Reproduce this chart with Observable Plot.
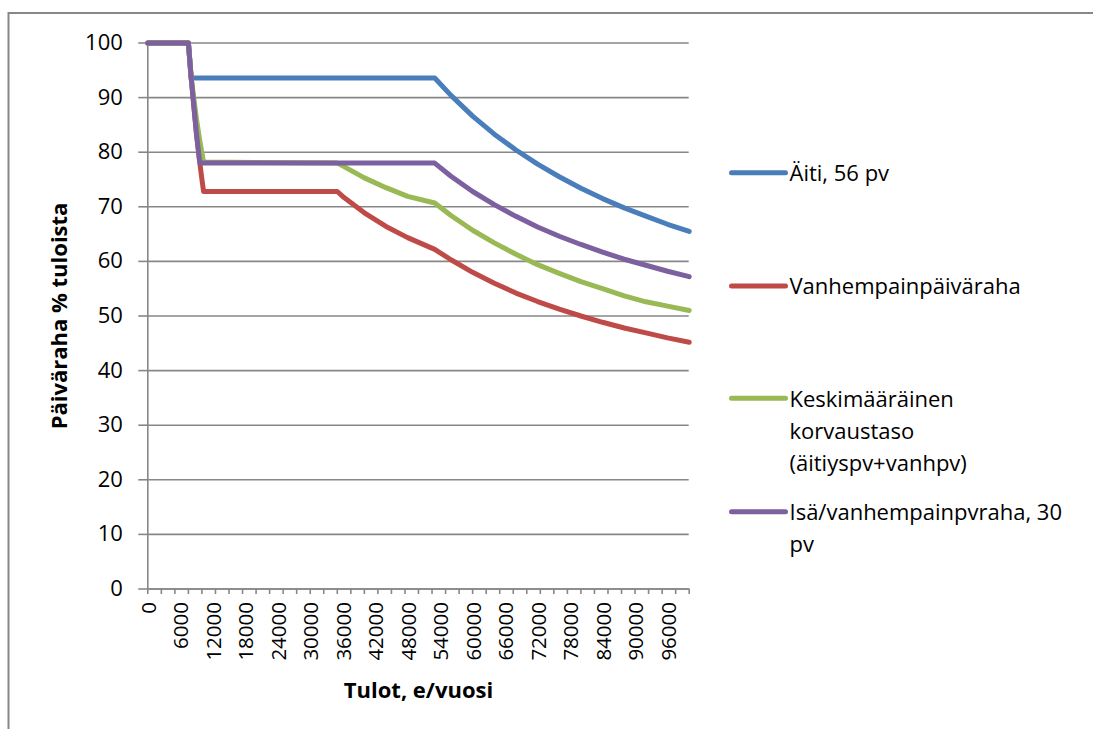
<!DOCTYPE html>
<html><head><meta charset="utf-8">
<script src="https://cdn.jsdelivr.net/npm/d3@7"></script>
<script src="https://cdn.jsdelivr.net/npm/@observablehq/plot@0.6"></script>
<style>
html,body{margin:0;padding:0;background:#fff;}
#chart{position:relative;width:1093px;height:729px;overflow:hidden;}
</style></head><body><div id="chart"></div>
<script>
// Tulot, e/vuosi (income, euro per year)
const income = [0, 7500, 8000, 9000, 9600, 10000, 10300, 35000, 36000, 40000, 44000, 48000, 53000,
  56000, 60000, 64000, 68000, 72000, 76000, 80000, 84000, 88000, 92000, 96000, 100000];
// Päiväraha % tuloista
const aiti = [100, 100, 93.6, 93.6, 93.6, 93.6, 93.6, 93.6, 93.6, 93.6, 93.6, 93.6, 93.6,
  90.4, 86.6, 83.3, 80.4, 77.8, 75.5, 73.4, 71.5, 69.8, 68.3, 66.8, 65.5];
const vanhempain = [100, 100, 93.75, 83.3, 78.1, 75.0, 72.8, 72.8, 71.9, 68.9, 66.4, 64.35, 62.2,
  60.3, 58.0, 56.0, 54.2, 52.65, 51.25, 50.0, 48.85, 47.8, 46.9, 46.0, 45.2];
const keskimaarainen = [100, 100, 93.7, 86.0, 82.1, 79.8, 78.2, 78.0, 77.5, 75.3, 73.5, 71.9, 70.7,
  68.4, 65.7, 63.4, 61.3, 59.4, 57.8, 56.3, 55.0, 53.7, 52.6, 51.8, 51.0];
const isa = [100, 100, 93.75, 83.3, 78.1, 78.0, 78.0, 78.0, 78.0, 78.0, 78.0, 78.0, 78.0,
  75.6, 72.8, 70.4, 68.25, 66.3, 64.6, 63.1, 61.7, 60.4, 59.3, 58.2, 57.2];

const seriesNames = ["Äiti, 56 pv", "Vanhempainpäiväraha", "Keskimääräinen korvaustaso (äitiyspv+vanhpv)", "Isä/vanhempainpvraha, 30 pv"];
const legendLines = [["Äiti, 56 pv"], ["Vanhempainpäiväraha"], ["Keskimääräinen", "korvaustaso", "(äitiyspv+vanhpv)"], ["Isä/vanhempainpvraha, 30", "pv"]];
const colors = ["#4A7EBB", "#BE4B48", "#98B954", "#7D60A0"];
const yTicks = [0, 10, 20, 30, 40, 50, 60, 70, 80, 90, 100];
const xTickMarks = d3.range(0, 100001, 2500);
const xLabels = [0, 6000, 12000, 18000, 24000, 30000, 36000, 42000, 48000, 54000, 60000, 66000, 72000, 78000, 84000, 90000, 96000];
const yTitle = "Päiväraha % tuloista";
const xTitle = "Tulot, e/vuosi";

const rows = [];
[aiti, vanhempain, keskimaarainen, isa].forEach((vals, s) =>
  income.forEach((x, i) => rows.push({x, y: vals[i], s: seriesNames[s]})));

const font = '"Open Sans", sans-serif';
const gridColor = "#878787";

const plot = Plot.plot({
  width: 1093, height: 729,
  marginLeft: 147.3, marginRight: 404.3, marginTop: 42.5, marginBottom: 140.5,
  style: {fontFamily: font, background: "#fff", overflow: "visible"},
  x: {domain: [0, 100000]},
  y: {domain: [0, 100]},
  color: {domain: seriesNames, range: colors},
  marks: [
    Plot.gridY(yTicks, {stroke: gridColor, strokeOpacity: 1, strokeWidth: 1.6}),
    Plot.axisY(yTicks, {tickSize: 9, tickPadding: 16, stroke: gridColor, strokeWidth: 1.6, fontSize: 22, fill: "#000", label: null}),
    Plot.axisX(xTickMarks, {tickSize: 5.5, tickFormat: () => "", stroke: gridColor, strokeWidth: 1.6, label: null}),
    Plot.ruleY([0], {stroke: gridColor, strokeWidth: 1.6}),
    Plot.ruleX([0], {stroke: gridColor, strokeWidth: 1.6}),
    Plot.text(xLabels, {x: d => d, frameAnchor: "bottom", rotate: -90, textAnchor: "end", lineAnchor: "middle",
      dy: 13, dx: 1.5, fontSize: 20.5, fill: "#000", text: d => String(d)}),
    Plot.line(rows, {x: "x", y: "y", z: "s", stroke: "s", strokeWidth: 5, strokeLinejoin: "round", strokeLinecap: "round"}),
    Plot.text([yTitle], {frameAnchor: "left", rotate: -90, dx: -87.7, lineAnchor: "middle", textAnchor: "middle",
      fontWeight: "bold", fontSize: 22, fill: "#000"}),
    Plot.text([xTitle], {frameAnchor: "bottom", dy: 101.5, lineAnchor: "middle", textAnchor: "middle",
      fontWeight: "bold", fontSize: 22, fill: "#000"})
  ]
});

const svg = d3.select(plot);
// chart-area border (left and top edges visible)
svg.append("path").attr("d", "M8.5,729V13H1093").attr("fill", "none").attr("stroke", "#878787").attr("stroke-width", 2);

// legend
const swatchY = [172.7, 286, 398.3, 511.7];
const lg = svg.append("g").attr("font-family", font).attr("font-size", 22).attr("fill", "#000")
  .attr("text-anchor", "start").style("text-anchor", "start");
legendLines.forEach((lines, i) => {
  lg.append("line").attr("x1", 731.5).attr("x2", 785.5).attr("y1", swatchY[i]).attr("y2", swatchY[i])
    .attr("stroke", colors[i]).attr("stroke-width", 5).attr("stroke-linecap", "round");
  const t = lg.append("text").attr("x", 789.5).attr("y", swatchY[i] + 8.3).attr("text-anchor", "start");
  lines.forEach((ln, j) => {
    t.append("tspan").attr("x", 789.5).attr("dy", j === 0 ? 0 : 32.3).text(ln);
  });
});

document.getElementById("chart").appendChild(plot);
</script>
</body></html>
